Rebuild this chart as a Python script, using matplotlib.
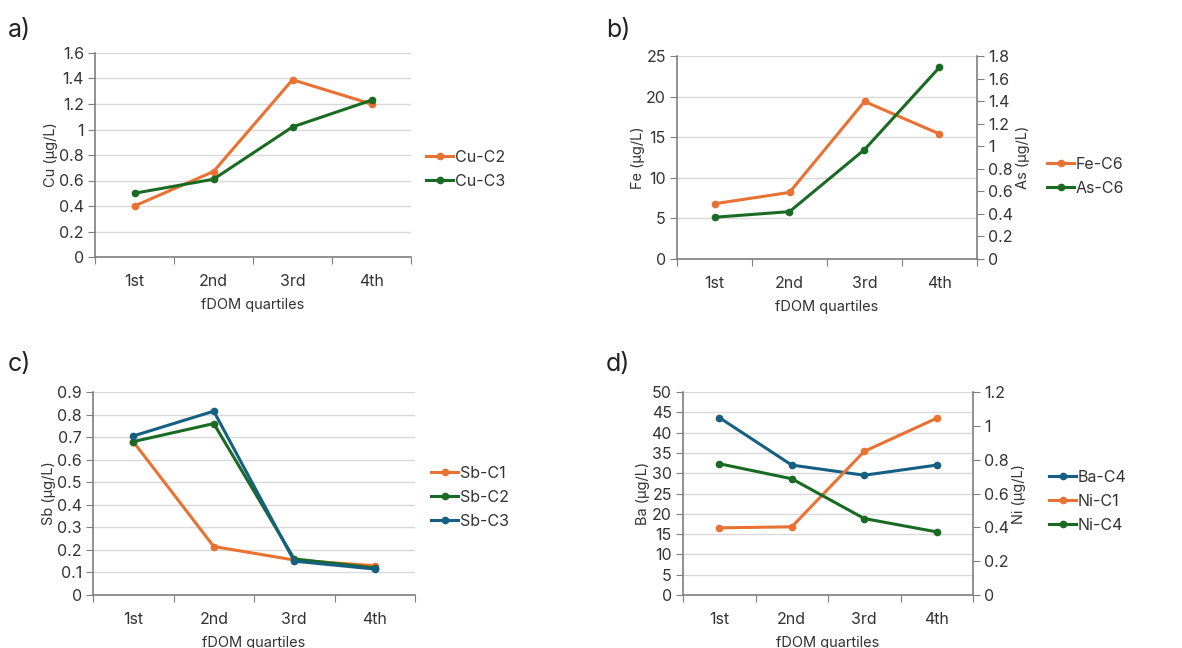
import numpy as np
import matplotlib.pyplot as plt
from matplotlib.lines import Line2D

plt.rcParams['font.family'] = ['Inter', 'DejaVu Sans']

quartiles = ['1st', '2nd', '3rd', '4th']

# panel a
cu_c2 = [0.40, 0.67, 1.39, 1.20]
cu_c3 = [0.50, 0.61, 1.02, 1.23]

# panel b
fe_c6 = [6.8, 8.2, 19.4, 15.4]
as_c6 = [0.37, 0.42, 0.97, 1.70]

# panel c
sb_c1 = [0.68, 0.215, 0.155, 0.13]
sb_c2 = [0.68, 0.76, 0.16, 0.12]
sb_c3 = [0.705, 0.815, 0.15, 0.115]

# panel d
ba_c4 = [43.7, 32.0, 29.5, 32.0]
ni_c1 = [0.397, 0.403, 0.849, 1.045]
ni_c4 = [0.776, 0.687, 0.452, 0.373]

ORANGE = '#E97132'
GREEN = '#196B24'
BLUE = '#156082'
AXIS = '#7F7F7F'
TEXT = '#333333'

W, H = 1182, 648


def px_axes(fig, left, right, top, bottom):
    return fig.add_axes([left / W, 1 - bottom / H, (right - left) / W, (bottom - top) / H])


def style_axes(ax, ymax, ystep, ylabel, fmt):
    x = np.arange(len(quartiles)) + 0.5
    ax.set_xlim(0, len(quartiles))
    ax.set_ylim(0, ymax)
    ax.set_xticks(np.arange(len(quartiles) + 1))
    ax.set_xticklabels([])
    ax.set_xticks(x, minor=True)
    ax.set_xticklabels(quartiles, minor=True)
    ax.tick_params(axis='x', which='minor', length=0, pad=12, labelsize=11.5, colors=TEXT)
    ax.tick_params(axis='x', which='major', length=5, color=AXIS, direction='out')
    yt = np.arange(0, ymax + ystep / 2, ystep)
    ax.set_yticks(yt)
    ax.set_yticklabels([fmt(v) for v in yt])
    ax.tick_params(axis='y', length=5, color=AXIS, labelsize=11.5, colors=TEXT, pad=3)
    ax.grid(axis='y', color='#D9D9D9', linewidth=1)
    ax.set_axisbelow(True)
    for s in ['top', 'right']:
        ax.spines[s].set_visible(False)
    for s in ['left', 'bottom']:
        ax.spines[s].set_color(AXIS)
        ax.spines[s].set_linewidth(1.2)
    ax.set_ylabel(ylabel, fontsize=10.5, color=TEXT, labelpad=1)
    ax.set_xlabel('fDOM quartiles', fontsize=10.5, color=TEXT, labelpad=7)
    return x


def right_axis(ax, ymax, ystep, ylabel, fmt):
    ax2 = ax.twinx()
    ax2.set_ylim(0, ymax)
    yt = np.arange(0, ymax + ystep / 2, ystep)
    ax2.set_yticks(yt)
    ax2.set_yticklabels([fmt(v) for v in yt])
    ax2.tick_params(axis='y', length=5, color=AXIS, labelsize=11.5, colors=TEXT, pad=3)
    for s in ['top', 'left', 'bottom']:
        ax2.spines[s].set_visible(False)
    ax2.spines['right'].set_color(AXIS)
    ax2.spines['right'].set_linewidth(1.2)
    ax2.set_ylabel(ylabel, fontsize=10.5, color=TEXT, labelpad=2)
    return ax2


def line(ax, x, y, color):
    ax.plot(x, y, color=color, linewidth=2.2, marker='o', markersize=4.5, zorder=3)


def legend(fig, items, x, y):
    handles = [Line2D([], [], color=c, linewidth=2.2, marker='o', markersize=4.5) for _, c in items]
    fig.legend(handles, [n for n, _ in items], loc='upper left',
               bbox_to_anchor=(x / W, 1 - y / H), frameon=False, fontsize=11.5,
               handlelength=1.7, handletextpad=0.1, labelspacing=0.55,
               borderaxespad=0, borderpad=0, labelcolor=TEXT)


def fmt_dec(v):
    s = f'{v:.1f}'
    return s.rstrip('0').rstrip('.') if s.endswith('.0') else s


def fmt_int(v):
    return f'{v:.0f}'


def main():
    fig = plt.figure(figsize=(W / 100, H / 100), dpi=100)

    # a)
    ax = px_axes(fig, 95, 411, 53, 257)
    x = style_axes(ax, 1.6, 0.2, 'Cu (µg/L)', fmt_dec)
    line(ax, x, cu_c2, ORANGE)
    line(ax, x, cu_c3, GREEN)
    legend(fig, [('Cu-C2', ORANGE), ('Cu-C3', GREEN)], 426, 150)

    # b)
    ax = px_axes(fig, 677, 977, 56, 259)
    x = style_axes(ax, 25, 5, 'Fe (µg/L)', fmt_int)
    ax2 = right_axis(ax, 1.8, 0.2, 'As (µg/L)', fmt_dec)
    line(ax, x, fe_c6, ORANGE)
    line(ax2, x, as_c6, GREEN)
    legend(fig, [('Fe-C6', ORANGE), ('As-C6', GREEN)], 1047, 157)

    # c)
    ax = px_axes(fig, 93, 415, 392, 595)
    x = style_axes(ax, 0.9, 0.1, 'Sb (µg/L)', fmt_dec)
    line(ax, x, sb_c1, ORANGE)
    line(ax, x, sb_c2, GREEN)
    line(ax, x, sb_c3, BLUE)
    legend(fig, [('Sb-C1', ORANGE), ('Sb-C2', GREEN), ('Sb-C3', BLUE)], 431, 466)

    # d)
    ax = px_axes(fig, 683, 973, 392, 595)
    x = style_axes(ax, 50, 5, 'Ba (µg/L)', fmt_int)
    ax2 = right_axis(ax, 1.2, 0.2, 'Ni (µg/L)', fmt_dec)
    line(ax, x, ba_c4, BLUE)
    line(ax2, x, ni_c1, ORANGE)
    line(ax2, x, ni_c4, GREEN)
    legend(fig, [('Ba-C4', BLUE), ('Ni-C1', ORANGE), ('Ni-C4', GREEN)], 1049, 470)

    for lab, xp, yp in [('a)', 8, 30), ('b)', 606, 30), ('c)', 8, 365), ('d)', 606, 365)]:
        fig.text(xp / W, 1 - yp / H, lab, fontsize=18, color='#222222', va='center', ha='left')

    fig.savefig('out.png', dpi=100, facecolor='white')


if __name__ == '__main__':
    main()
